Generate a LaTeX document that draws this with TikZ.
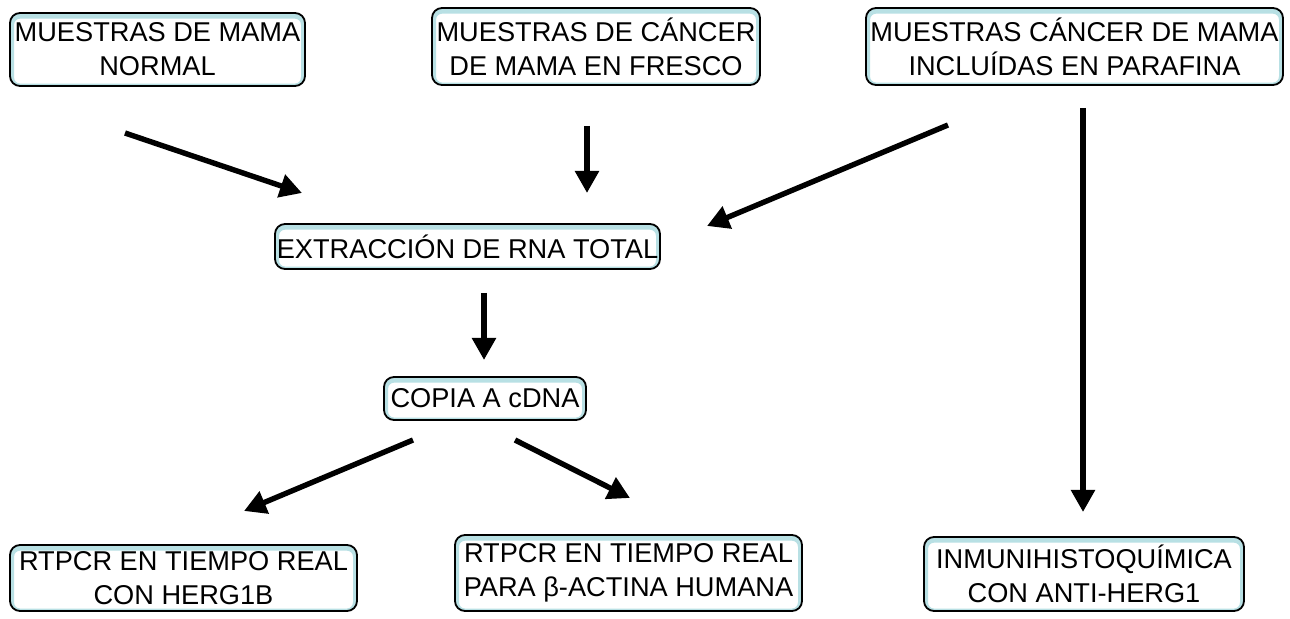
\documentclass[tikz,border=0pt]{standalone}
\usepackage{fontspec}
\setmainfont{Liberation Sans}
\usetikzlibrary{arrows.meta}
\definecolor{boxteal}{RGB}{184,224,228}

\begin{document}
\begin{tikzpicture}[x=0.5pt, y=-0.5pt,
  box/.style={draw, rounded corners=5pt, line width=0.9pt, fill=white, align=center, inner sep=0pt,
    font=\fontsize{13.6}{17}\selectfont,
    path picture={\draw[boxteal, line width=4pt, rounded corners=5pt]
      ([yshift=-0.8pt]path picture bounding box.south west) rectangle
      ([yshift=-0.8pt]path picture bounding box.north east);}},
  flecha/.style={line width=2.7pt, -{Triangle[length=11pt, width=11.5pt]}}]
  \useasboundingbox (0,0) rectangle (1290,619);
  % cajas
  \node [box, minimum width=147.5pt, minimum height=36.5pt] (normal) at (157.5,49.5) {MUESTRAS DE MAMA\\NORMAL};
  \node [box, minimum width=164pt, minimum height=38.5pt] (fresco) at (596,46.5) {MUESTRAS DE CÁNCER\\DE MAMA EN FRESCO};
  \node [box, minimum width=208.5pt, minimum height=38.5pt] (parafina) at (1074.5,46.5) {MUESTRAS CÁNCER DE MAMA\\INCLUÍDAS EN PARAFINA};
  \node [box, minimum width=192.5pt, minimum height=22.5pt] (rna) at (467.5,246.5) {EXTRACCIÓN DE RNA TOTAL};
  \node [box, minimum width=101pt, minimum height=21.5pt] (cdna) at (485,398.5) {COPIA A cDNA};
  \node [box, minimum width=173.5pt, minimum height=33pt] (herg) at (183.5,578) {RTPCR EN TIEMPO REAL\\CON HERG1B};
  \node [box, minimum width=173.5pt, minimum height=38pt] (actina) at (628.5,573) {RTPCR EN TIEMPO REAL\\PARA β-ACTINA HUMANA};
  \node [box, minimum width=160pt, minimum height=37pt] (ihq) at (1084,574) {INMUNIHISTOQUÍMICA\\CON ANTI-HERG1};
  % extremos de las flechas
  \coordinate (a1) at (125,133);  \coordinate (b1) at (302,193);
  \coordinate (a2) at (587,126);  \coordinate (b2) at (587,193);
  \coordinate (a3) at (948,125);  \coordinate (b3) at (707,226);
  \coordinate (a4) at (1083,108); \coordinate (b4) at (1083,512);
  \coordinate (a5) at (484,293);  \coordinate (b5) at (484,360);
  \coordinate (a6) at (413,440);  \coordinate (b6) at (244,511);
  \coordinate (a7) at (515,440);  \coordinate (b7) at (630,498);
  \draw [flecha] (a1) -- (b1);
  \draw [flecha] (a2) -- (b2);
  \draw [flecha] (a3) -- (b3);
  \draw [flecha] (a4) -- (b4);
  \draw [flecha] (a5) -- (b5);
  \draw [flecha] (a6) -- (b6);
  \draw [flecha] (a7) -- (b7);
\end{tikzpicture}
\end{document}
